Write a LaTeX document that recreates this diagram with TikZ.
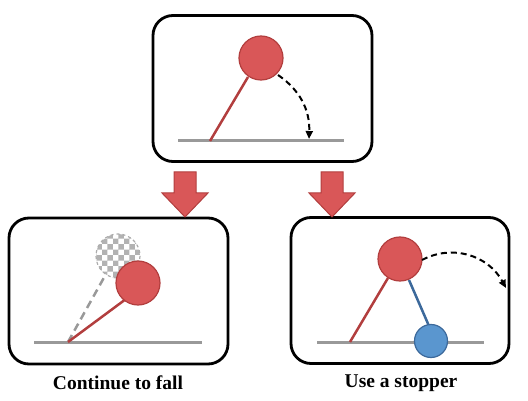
\documentclass[tikz,border=0pt]{standalone}
\usepackage{fontspec}
\setmainfont{Liberation Serif}
\usepackage{tikz}
\usetikzlibrary{patterns,arrows.meta}
\definecolor{ballred}{RGB}{217,87,88}
\definecolor{ballredline}{RGB}{178,62,62}
\definecolor{stopblue}{RGB}{90,150,207}
\definecolor{stopblueline}{RGB}{60,105,155}
\definecolor{groundgray}{RGB}{153,153,153}
\def\blockarrow(#1)(#2){\draw[line width=1pt, draw=ballredline, fill=ballred] (#1-11, #2) -- (#1+11, #2) -- (#1+11, #2+21) -- (#1+23, #2+21) -- (#1, #2+45) -- (#1-23, #2+21) -- (#1-11, #2+21) -- cycle;}

\begin{document}
\begin{tikzpicture}[x=1pt, y=-1pt,
	panel/.style={draw=black, line width=2.8pt, rounded corners=20pt, minimum width=#1, minimum height=146pt, inner sep=0pt},
	ground/.style={draw=groundgray, line width=3pt},
	rod/.style={draw=ballredline, line width=2.5pt},
	ball/.style={draw=ballredline, line width=1.2pt, fill=ballred},
	path/.style={draw=black, line width=2pt, dash pattern=on 6pt off 4pt, -{Triangle[length=8pt, width=7pt]}},
	caption/.style={font=\fontsize{19.5}{22}\selectfont\bfseries}]
	%%%%% START %%%%%

	\useasboundingbox (0, 0) rectangle (528, 401);

	% panels
	\node[panel=219pt] (top) at (262.5, 88.5) {};
	\node[panel=219pt] (fall) at (118.5, 291) {};
	\node[panel=218pt] (stop) at (400, 290.5) {};

	% top panel
	\draw[ground] (178, 141) -- (344, 141);
	\draw[rod] (210, 141) -- (248, 77);
	\draw[ball] (261, 58) circle (22);
	\draw[path] (278, 75) .. controls (300, 90) and (310, 110) .. (309, 139);

	% arrows
	\blockarrow(185)(172)
	\blockarrow(332)(172)

	% continue to fall
	\draw[ground] (34, 342) -- (202, 342);
	\draw[draw=groundgray, line width=2.5pt, dash pattern=on 8pt off 5pt] (68, 342) -- (106, 274);
	\draw[draw=groundgray!80, line width=1.2pt, dashed, pattern=checkerboard, pattern color=black!30] (118, 256) circle (22);
	\draw[rod] (68, 342) -- (126, 299);
	\draw[ball] (138, 283) circle (22);

	% use a stopper
	\draw[ground] (317, 342) -- (484, 342);
	\draw[rod] (350, 342) -- (388, 278);
	\draw[draw=stopblueline, line width=2.5pt] (409, 280) -- (429, 326);
	\draw[draw=stopblueline, line width=1.2pt, fill=stopblue] (431, 341) circle (16.5);
	\draw[ball] (400, 259) circle (22);
	\draw[path] (422, 260) .. controls (452, 244) and (488, 255) .. (506, 288);

	% captions
	\node[caption] (falltext) at (118, 383) {Continue to fall};
	\node[caption] (stoptext) at (401, 383) {Use a stopper};

	%%%%% END %%%%%
\end{tikzpicture}
\end{document}
